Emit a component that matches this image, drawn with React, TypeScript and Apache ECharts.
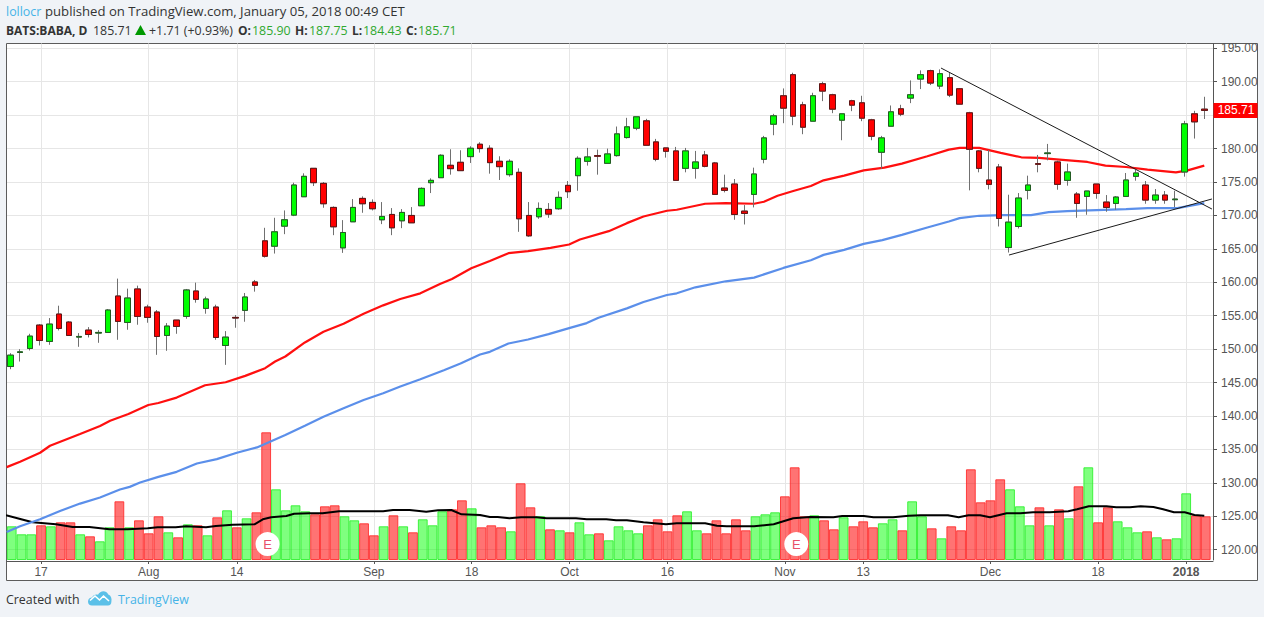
import React, { useEffect, useRef } from "react";
import * as echarts from "echarts";

const opens = [147.4,149.5,150.1,153.6,151.15,155.25,154.05,151.8,152.85,152.4,152.5,157.95,154,159,156.3,155.55,152.05,154.35,154.9,158.7,156.1,156.3,150.55,154.75,155.8,160.05,166.2,165.4,168.4,170.05,172.8,177.05,174.8,171.2,165.15,169.05,172.55,171.95,169.35,170.15,169.2,170,171.45,174.9,175.65,177.5,177.95,178.8,180.65,180.05,178.1,176.1,176.45,170,169.8,170.9,171,174.5,175.95,178.1,178.95,177.8,178.95,181.65,183.05,184.15,181,180.1,179.65,177.05,177.05,179.05,177.85,174.1,174.7,170.65,173.15,178.4,183.65,187.9,191.05,186.55,184.1,189.7,188.05,184.25,187.15,186.85,184.3,179.45,183.35,185.95,187.55,190.4,191.65,189.35,190.6,188.95,185.35,179.65,175.3,177.25,165.2,168.35,173.75,177.75,179.25,178,175.25,173.2,172.85,174.7,172,171.8,172.85,175.85,174.55,172.3,173.05,172.35,176.5,185.2,185.9];
const closes = [149.1,149.6,151.95,151.3,153.75,153.1,152.05,151.9,152.2,152.5,155.85,154.15,157.65,154.9,154.75,151.9,153.45,153.4,158.85,157.45,157.5,151.75,151.8,154.65,157.8,159.55,163.9,167.55,169.35,174.55,175.85,174.9,171.75,168.3,167.45,171.2,171.75,171,169.85,168.15,170.45,168.9,174.05,175.25,179,177,176.7,180.05,180,177.9,177.3,178.1,169.5,166.95,171.05,170.2,172.7,173.55,178.55,178.75,178.85,179.2,182.2,183.25,184.75,180.5,178.4,179.6,175.25,179.65,178,177.35,173.15,173.75,170.15,170.3,176.2,181.6,184.9,186.05,184.85,183.2,187.9,188.6,185.9,185.2,186.5,184.55,181.85,181.6,185.5,185.15,188.05,191.05,189.8,191.2,188,186.65,179.9,177.05,174.65,169.55,169,172.6,174.55,177.65,179.35,174.65,176.5,171.8,173.65,173.3,171.2,172.75,175.3,176.35,172.3,173.05,172.3,172.45,183.7,184,185.71];
const highs = [149.4,150,152.3,153.75,154.65,156.5,154.2,152.4,153.3,152.85,156,160.55,159.05,159.5,156.65,155.85,153.9,154.35,159,159.95,157.85,156.65,152.7,155.1,158.4,160.35,168.15,169.65,170.75,174.9,176.3,177.05,175,171.35,169.3,172.45,172.85,172.4,172,171.1,170.95,171.25,174.2,175.55,179.15,179.9,179.75,180.35,180.95,180.5,178.85,178.4,177.05,172,171.95,171.85,173.6,175.15,178.85,180.1,179.85,180,183.3,184.6,184.75,184.45,181.45,180.1,180.25,180.1,179.65,179.65,178,176.1,175.45,171.55,177.15,181.9,185.2,189,191.35,187,188.35,190,188.2,185.2,187.3,187.9,184.45,181.9,186.45,186.55,190.2,191.7,191.8,191.85,191.35,189.05,185.5,179.8,179.8,177.7,173.1,173.35,175.95,179.05,180.7,178.2,177.75,173.5,173.65,174.7,173.05,172.9,176.35,176.8,175.15,173.95,173.65,173.7,184.15,185.65,187.75];
const lows = [147,148.15,149.8,150.55,150.65,152.8,152.05,150.35,151.75,150.95,152.5,151.4,152.9,153.65,153.95,149.15,149.75,152.3,154.55,156.95,155.3,151.4,147.65,153.2,154.1,158.6,163.7,164.3,167.2,169.9,172.8,174.4,171.15,167.05,164.4,169.05,170.4,170.75,168.7,167.05,168.1,168.9,171.45,173.35,175.65,176.1,176.7,177.85,179.4,176.25,175.3,175.8,167.55,166.8,169.5,169.65,170.85,172.6,173.7,177.45,176.1,177.8,178.8,181.5,182.75,180.5,178.1,178.65,175.25,176.45,175.5,177.2,173.15,173.45,169.35,168.65,171.2,177.8,182,183.8,183.5,182.15,184.1,187.1,185.3,181.25,185.6,184.1,181.25,176.95,183.35,184.85,186.8,188.9,189.5,188.9,187.7,186.65,173.75,176.45,173.9,168.35,164.45,168.05,172.4,176.45,178.25,173.85,174.45,169.65,170.1,172.5,170.55,170.85,172.85,175.2,171.75,171.75,171.75,171.25,175.8,181.5,184.43];
const volumes = [33.7,25.7,25.7,34.7,33.7,37.7,37.7,25.7,23.7,18.7,32.7,58.7,32.7,39.7,26.7,43.7,27.7,22.7,35.7,34.7,24.7,42.7,49.7,32.7,41.7,47.7,127.7,70.7,49.7,54.7,48.7,45.7,53.7,54.7,43.7,39.7,36.7,24.7,33.7,44.7,33.7,27.7,40.7,34.7,48.7,50.7,59.7,51.7,32.7,34.7,32.7,28.7,76.7,52.7,43.7,30.7,29.7,27.7,37.7,25.7,26.7,19.7,33.7,29.7,26.7,34.7,40.7,28.7,44.7,48.7,29.7,26.7,39.7,26.7,40.7,29.7,43.7,45.7,47.7,63.7,92.7,43.7,44.7,39.7,30.7,42.7,33.7,38.7,32.7,36.7,40.7,29.7,58.7,43.7,31.7,21.7,33.7,29.7,90.7,57.7,59.7,80.7,70.7,53.7,34.7,52.7,34.7,50.7,41.7,73.7,92.7,37.7,52.7,38.7,32.7,27.7,28.7,22.7,20.7,21.7,66.7,44.7,43.7];

const redAverage = [[-0.37,132.35],[1,133.15],[3.04,134.5],[4.06,135.55],[7.13,137.3],[9.17,138.5],[10.2,139.3],[12.07,140.3],[14.1,141.65],[15.13,141.95],[17,142.75],[19.9,144.6],[22,145.05],[24,146],[26.04,147.15],[27.06,148.15],[28.1,148.9],[30.1,151],[32,152.6],[34.05,153.8],[36.1,155.3],[38.1,156.55],[39.85,157.5],[41.9,158.35],[43.9,159.75],[45.13,160.5],[47.1,162.1],[49,163.2],[50.9,164.35],[52.9,164.65],[55.2,165.15],[57.1,165.65],[58.2,166.4],[61.15,167.65],[63,168.85],[64.7,169.85],[67.1,170.7],[68.1,170.85],[71,171.75],[73.1,171.85],[76,171.75],[77,172.05],[78.4,172.95],[80,173.65],[81.8,174.4],[83.1,175.25],[85.2,175.95],[87.2,176.75],[89.3,177.15],[91.1,177.75],[93.7,178.85],[95.9,179.85],[97,180.1],[99,180.1],[101.2,179.35],[103.3,178.7],[105.1,178.6],[107.2,178.35],[110.05,178],[111.9,177.45],[114,177.25],[116.2,176.85],[119.1,176.45],[120.3,176.75],[122,177.45]];
const blueAverage = [[-0.37,122.65],[1,123.5],[3.04,124.55],[5.08,125.8],[7.13,126.9],[9.17,127.8],[11.2,129],[12.2,129.4],[13.26,130.05],[15.13,130.9],[17,131.65],[19.06,132.9],[21.1,133.55],[23.15,134.5],[25.2,135.3],[28.1,137.15],[30.1,138.55],[32,139.9],[34.05,141.15],[36.1,142.4],[38.1,143.4],[39.85,144.4],[41.9,145.5],[44.3,146.85],[46,147.85],[48,149.2],[49,149.6],[50.9,150.85],[52.9,151.45],[55,152.25],[57.1,153.15],[58.9,153.9],[60.1,154.7],[63,156.1],[64.7,157.05],[67.1,158.1],[68.1,158.35],[70,159.25],[73.1,160.15],[76,160.7],[79,162.15],[81.8,163.3],[83.1,164.1],[85.2,164.85],[87.2,165.75],[89.1,166.3],[91.1,167.1],[93.7,168.2],[95.9,169.1],[97,169.6],[99,169.95],[101.2,170.05],[104.3,170.05],[106.1,170.5],[108,170.65],[111,170.8],[114,170.95],[116.2,171.1],[119.25,171.1],[122,171.85]];
const volumeAverage = [[-0.44,44.7],[0.92,41.3],[2.28,37.7],[4.67,35.7],[6.37,33],[8.08,33],[10.12,30.7],[12,30.7],[14.04,31.7],[15.06,32.7],[16.9,32.7],[17.96,33.7],[20,32.7],[21,34],[22.7,35.3],[24.95,35.7],[25.8,40.7],[26.66,42.7],[28.2,44],[29,46.3],[30.6,46.7],[31.9,46.7],[33.6,48.7],[38.1,48.7],[39.1,50],[40.8,50],[42.5,48.3],[43.7,49.7],[45.06,50],[46.1,45.7],[48,45],[49,43],[49.8,43],[51,41.7],[52.2,42.7],[53.75,42.7],[54.8,41.7],[57.8,41.7],[58.9,40.7],[60.9,40.7],[61.9,39.7],[63,39.7],[64.7,37.7],[67,35.7],[68.1,36.7],[71,36.7],[72.2,34.3],[73.2,33.7],[76,33.7],[78,35.7],[79,38.7],[80,41.7],[81.7,43],[84.1,42.7],[85,44],[87.2,44],[88.2,42.7],[90.2,42.7],[91.8,44.3],[93,44.7],[95.8,44.7],[96.9,42.7],[97.9,44.7],[99.1,44.7],[100.1,42.7],[101.8,46.7],[103.2,46.7],[104.5,47.7],[106.2,47.7],[108.1,48.7],[109,50.7],[110.2,53.7],[112,53.7],[113,52.7],[114.4,52.7],[115.5,53.7],[116.8,53],[117.8,50.7],[118.9,47.7],[120,47.7],[121,45],[122,44.3]];

const fallingTrend = [[95.1,192.05],[122.78,170.96]];
const risingTrend = [[102.05,164.08],[122.78,172.46]];
const earnings = [[26.14,120.85],[80.16,120.85]];

const priceTicks = [120,125,130,135,140,145,150,155,160,165,170,175,180,185,190,195];
const priceLabels = [120,125,130,135,140,145,150,155,160,165,170,175,180,190,195];
const dateTickIndex = [3,14,23,37,47,57,67,79,87,100,111,120];
const dateTickLabels = ["17","Aug","14","Sep","18","Oct","16","Nov","13","Dec","18","2018"];

const LOGO = "M0 11 C0 8.5 2 7 4 7 C5 4.5 8 3.5 10 4.3 C12 0.2 18 -0.8 20.3 4 C23 5 24 8 23.4 11 C23.4 13.5 22 15 20 15 L4 15 C1.5 15 0 13.5 0 11 Z";
echarts.graphic.registerShape("tvLogo", echarts.graphic.extendPath(LOGO as any, {}));

const UI = "'Open Sans', sans-serif";
const AXIS = "'Liberation Sans', Arial, sans-serif";
const GREEN_TXT = "#2fa82f";
const BLUE_TXT = "#45b3e7";
const DARK = "#333333";

function txt(x: number, y: number, text: string, fill: string, size = 12.4, bold = false) {
  return {
    type: "text", x, y, silent: true, z: 10,
    style: { text, fill, font: `${bold ? "bold " : ""}${size}px ${UI}`, verticalAlign: "middle", align: "left" },
  };
}

export default function App() {
  const ref = useRef<HTMLDivElement>(null);
  useEffect(() => {
    const chart = echarts.init(ref.current!, undefined, { renderer: "svg" });
    const idx = opens.map((_, i) => i);
    const wicks = idx.map((i) => [i, opens[i], closes[i], lows[i], highs[i]]);
    const bodies = idx.map((i) => [i, opens[i], closes[i], Math.min(opens[i], closes[i]), Math.max(opens[i], closes[i])]);
    const vol = idx.map((i) => {
      const up = closes[i] >= opens[i];
      return {
        value: [i, volumes[i]],
        itemStyle: {
          color: up ? "rgba(0,255,0,0.5)" : "rgba(255,0,0,0.55)",
          borderColor: up ? "rgba(40,240,40,0.85)" : "rgba(255,40,40,0.85)",
          borderWidth: 1,
        },
      };
    });
    const lineBase = { type: "line", symbol: "none", silent: true, xAxisIndex: 0, yAxisIndex: 0 };
    const option: any = {
      animation: false,
      backgroundColor: "#f0f3f7",
      tooltip: { show: false },
      grid: { left: 7, top: 43.5, right: 51, bottom: 57, containLabel: false },
      xAxis: [
        { type: "value", show: false, min: -0.337, max: 122.89 },
        {
          type: "value", min: -0.48, max: 122.74, position: "bottom", offset: 1,
          axisLine: { show: true, onZero: false, lineStyle: { color: "#555555", width: 1 } },
          axisTick: { show: true, length: 3, customValues: dateTickIndex, lineStyle: { color: "#555555" } },
          splitLine: { show: true, lineStyle: { color: "#e6e6e6", width: 1 } },
          axisLabel: {
            customValues: dateTickIndex, margin: 5, color: "#555555", fontSize: 12, fontFamily: AXIS,
            formatter: (v: number) => {
              const s = dateTickLabels[dateTickIndex.indexOf(Math.round(v))] ?? "";
              return s === "2018" ? `{b|${s}}` : s;
            },
            rich: { b: { fontWeight: "bold", color: "#555555", fontSize: 12, fontFamily: AXIS } },
          },
        },
      ],
      yAxis: [
        {
          type: "value", position: "right", min: 118.46, max: 195.72,
          axisLine: { show: true, onZero: false, lineStyle: { color: "#555555", width: 1 } },
          axisTick: { show: true, length: 4, customValues: priceTicks, lineStyle: { color: "#555555" } },
          splitLine: { show: true, lineStyle: { color: "#e6e6e6", width: 1 } },
          axisLabel: {
            customValues: priceLabels, margin: 8, color: "#555555", fontSize: 12, fontFamily: AXIS,
            formatter: (v: number) => v.toFixed(2),
          },
        },
        { type: "value", show: false, min: 0, max: 516.5 },
      ],
      series: [
        { type: "bar", name: "Volume", xAxisIndex: 1, yAxisIndex: 1, barWidth: 9.79, data: vol, silent: true, z: 2 },
        { ...lineBase, name: "Volume MA", xAxisIndex: 0, yAxisIndex: 1, data: volumeAverage, lineStyle: { color: "#000000", width: 2 }, z: 3 },
        { ...lineBase, name: "MA blue", data: blueAverage, lineStyle: { color: "#5b8fea", width: 2.2 }, z: 3 },
        { ...lineBase, name: "MA red", data: redAverage, lineStyle: { color: "#ff0f0f", width: 2.2 }, z: 3 },
        {
          type: "candlestick", name: "BABA wicks", xAxisIndex: 0, yAxisIndex: 0, silent: true, z: 4, barWidth: 6,
          encode: { x: 0, y: [1, 2, 3, 4] }, data: wicks,
          itemStyle: { color: "#00ff00", color0: "#ff0000", borderColor: "#707070", borderColor0: "#707070", borderWidth: 1 },
        },
        {
          type: "candlestick", name: "BABA", xAxisIndex: 0, yAxisIndex: 0, silent: true, z: 5, barWidth: 6,
          encode: { x: 0, y: [1, 2, 3, 4] }, data: bodies,
          itemStyle: { color: "#00ff00", color0: "#ff0000", borderColor: "#225c22", borderColor0: "#5e1414", borderWidth: 1 },
        },
        { ...lineBase, name: "Trend down", data: fallingTrend, lineStyle: { color: "#1a1a1a", width: 1 }, z: 6 },
        { ...lineBase, name: "Trend up", data: risingTrend, lineStyle: { color: "#1a1a1a", width: 1 }, z: 6 },
        {
          type: "scatter", name: "Earnings", xAxisIndex: 1, yAxisIndex: 0, silent: true, z: 7, data: earnings,
          symbol: "circle", symbolSize: 24, itemStyle: { color: "#ffffff", opacity: 1 },
          label: { show: true, position: "inside", formatter: "E", color: "#e8506a", fontSize: 13, fontFamily: AXIS },
        },
      ],
    };
    chart.setOption(option);
    const lastClose = closes[closes.length - 1];
    const py = chart.convertToPixel({ yAxisIndex: 0 }, lastClose) as number;
    chart.setOption({
      graphic: {
        elements: [
          { type: "rect", z: -1, silent: true, shape: { x: 6.5, y: 43.5, width: 1251, height: 537 }, style: { fill: "#ffffff", stroke: "#5c5c5c", lineWidth: 1 } },
          txt(6, 11, "lollocr", BLUE_TXT),
          txt(45, 11, "published on TradingView.com, January 05, 2018 00:49 CET", DARK, 13.15),
          txt(6, 30, "BATS:BABA, D", DARK, 12, true),
          txt(93, 30, lastClose.toFixed(2), DARK),
          { type: "polygon", silent: true, z: 10, shape: { points: [[135, 35], [146, 35], [140.5, 25]] }, style: { fill: "#009900" } },
          txt(149, 30, "+1.71 (+0.93%)", DARK),
          txt(238, 30, "O:", DARK, 12, true),
          txt(252, 30, "185.90", GREEN_TXT),
          txt(295, 30, "H:", DARK, 12, true),
          txt(309, 30, "187.75", GREEN_TXT),
          txt(352, 30, "L:", DARK, 12, true),
          txt(363, 30, "184.43", GREEN_TXT),
          txt(406, 30, "C:", DARK, 12, true),
          txt(418, 30, "185.71", GREEN_TXT),
          { type: "rect", silent: true, z: 10, shape: { x: 1213.5, y: py - 7.5, width: 44, height: 15 }, style: { fill: "#ff0000" } },
          { type: "text", silent: true, z: 11, x: 1236, y: py, style: { text: lastClose.toFixed(2), fill: "#ffffff", font: `12px ${AXIS}`, align: "center", verticalAlign: "middle" } },
          txt(6, 599, "Created with", DARK),
          { type: "tvLogo", silent: true, z: 10, x: 88, y: 590.5, style: { fill: "#5bc0e8" } },
          { type: "polyline", silent: true, z: 11, shape: { points: [[90, 600.5], [95, 596], [99.5, 600], [103.5, 596], [109, 601]] }, style: { stroke: "#ffffff", fill: "none", lineWidth: 1.6 } },
          txt(118, 599, "TradingView", BLUE_TXT),
        ],
      },
    });
    return () => chart.dispose();
  }, []);
  return <div ref={ref} style={{ position: "absolute", left: 0, top: 0, width: 1264, height: 617 }} />;
}
